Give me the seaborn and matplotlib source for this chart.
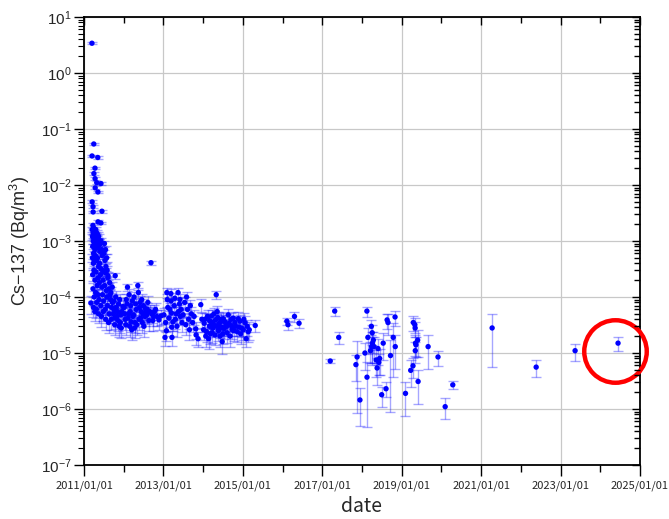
import numpy as np
import pandas as pd
import matplotlib
matplotlib.use('Agg')
import matplotlib.pyplot as plt
import matplotlib.dates as mdates
from matplotlib.ticker import LogLocator, NullFormatter
import seaborn as sns

# Cs-137 air concentration (Bq/m3), rel = relative 1-sigma error

# first days after the accident
date_spike = ['2011-03-15', '2011-04-01', '2011-03-16', '2011-05-08', '2011-04-12', '2011-04-02',
              '2011-04-13', '2011-04-28', '2011-06-06', '2011-04-14', '2011-05-09', '2011-03-17',
              '2011-03-25', '2011-06-15', '2011-03-26', '2011-05-10', '2011-06-05']
cs_spike = [3.4, 0.054, 0.033, 0.031, 0.020, 0.016,
            0.013, 0.011, 0.0106, 0.0089, 0.0075, 0.0050,
            0.0041, 0.0034, 0.0033, 0.0022, 0.0021]
rel_spike = [0.05, 0.06, 0.05, 0.06, 0.05, 0.06,
             0.05, 0.06, 0.05, 0.06, 0.05, 0.06,
             0.05, 0.06, 0.05, 0.06, 0.05]

# rest of 2011
date_2011 = ['2011-03-18', '2011-03-20', '2011-03-22', '2011-03-24', '2011-03-26', '2011-03-28',
             '2011-03-30', '2011-04-01', '2011-04-03', '2011-04-05', '2011-04-07', '2011-04-09',
             '2011-04-11', '2011-04-14', '2011-04-16', '2011-04-18', '2011-04-21', '2011-04-24',
             '2011-04-27', '2011-04-30', '2011-05-03', '2011-05-06', '2011-05-09', '2011-05-12',
             '2011-05-15', '2011-05-19', '2011-05-23', '2011-05-27', '2011-06-01', '2011-06-06',
             '2011-06-12', '2011-06-18', '2011-03-20', '2011-03-28', '2011-04-06', '2011-04-15',
             '2011-04-25', '2011-05-05', '2011-05-15', '2011-05-25', '2011-06-05', '2011-06-20',
             '2011-07-05', '2011-07-20', '2011-03-22', '2011-04-02', '2011-04-12', '2011-04-22',
             '2011-05-02', '2011-05-12', '2011-05-22', '2011-06-01', '2011-06-15', '2011-06-25',
             '2011-07-10', '2011-07-25', '2011-08-10', '2011-08-25', '2011-03-25', '2011-04-05',
             '2011-04-18', '2011-04-28', '2011-05-10', '2011-05-20', '2011-06-05', '2011-06-20',
             '2011-07-01', '2011-07-15', '2011-07-30', '2011-03-29', '2011-04-10', '2011-04-25',
             '2011-05-15', '2011-06-10', '2011-06-28', '2011-07-20', '2011-08-05', '2011-08-20',
             '2011-09-05', '2011-09-20', '2011-10-15', '2011-10-05', '2011-10-20', '2011-11-01',
             '2011-11-15', '2011-12-01', '2011-12-15', '2011-08-15', '2011-09-10', '2011-10-10',
             '2011-11-20', '2011-03-05',
             '2011-07-03', '2011-07-08', '2011-07-12', '2011-07-18', '2011-07-22', '2011-07-28',
             '2011-08-02', '2011-08-08', '2011-08-18', '2011-08-28', '2011-09-02', '2011-09-12',
             '2011-09-18', '2011-09-28', '2011-10-02', '2011-10-12', '2011-10-25', '2011-11-05',
             '2011-11-10', '2011-11-25', '2011-12-05', '2011-12-10', '2011-12-25']
cs_2011 = [1.6e-3, 1.2e-3, 8.0e-4, 1.9e-3, 1.4e-3, 1.0e-3,
           6.0e-4, 1.7e-3, 1.2e-3, 9.0e-4, 1.5e-3, 1.1e-3,
           7.0e-4, 1.3e-3, 1.0e-3, 1.6e-3, 8.0e-4, 1.2e-3,
           1.4e-3, 9.0e-4, 1.1e-3, 1.3e-3, 7.5e-4, 1.0e-3,
           1.2e-3, 8.5e-4, 1.0e-3, 6.5e-4, 9.0e-4, 1.0e-3,
           7.0e-4, 5.5e-4, 5.0e-4, 4.0e-4, 4.5e-4, 5.5e-4,
           4.5e-4, 5.0e-4, 3.5e-4, 4.0e-4, 3.2e-4, 3.0e-4,
           2.8e-4, 2.7e-4, 2.5e-4, 3.0e-4, 2.0e-4, 2.8e-4,
           1.6e-4, 2.2e-4, 1.8e-4, 2.5e-4, 1.5e-4, 2.0e-4,
           1.6e-4, 1.3e-4, 2.4e-4, 1.8e-4, 1.4e-4, 1.0e-4,
           1.2e-4, 8.0e-5, 1.1e-4, 9.0e-5, 7.0e-5, 1.1e-4,
           8.5e-5, 6.0e-5, 1.0e-4, 6.5e-5, 5.5e-5, 6.0e-5,
           5.0e-5, 4.5e-5, 5.5e-5, 4.0e-5, 7.0e-5, 5.0e-5,
           1.2e-4, 8.0e-5, 2.4e-4, 6.0e-5, 1.0e-4, 4.5e-5,
           7.5e-5, 3.5e-5, 5.5e-5, 3.5e-5, 4.0e-5, 3.2e-5,
           3.0e-5, 7.8e-5,
           6.0e-4, 9.0e-4, 4.5e-4, 7.0e-4, 3.5e-4, 5.0e-4,
           3.0e-4, 2.2e-4, 1.4e-4, 1.1e-4, 9.0e-5, 6.5e-5,
           1.5e-4, 5.0e-5, 8.5e-5, 4.2e-5, 6.5e-5, 5.5e-5,
           3.8e-5, 9.0e-5, 4.8e-5, 2.8e-5, 6.8e-5]
rel_2011 = [0.10, 0.12, 0.10, 0.12, 0.10, 0.12,
            0.10, 0.12, 0.10, 0.12, 0.10, 0.12,
            0.10, 0.12, 0.10, 0.12, 0.10, 0.12,
            0.10, 0.12, 0.10, 0.12, 0.10, 0.12,
            0.10, 0.12, 0.10, 0.12, 0.10, 0.12,
            0.15, 0.15, 0.15, 0.18, 0.15, 0.18,
            0.15, 0.18, 0.20, 0.18, 0.20, 0.20,
            0.20, 0.20, 0.22, 0.20, 0.25, 0.22,
            0.25, 0.22, 0.25, 0.22, 0.25, 0.25,
            0.25, 0.28, 0.15, 0.25, 0.28, 0.30,
            0.28, 0.30, 0.28, 0.30, 0.32, 0.28,
            0.30, 0.32, 0.28, 0.32, 0.32, 0.30,
            0.32, 0.35, 0.32, 0.35, 0.30, 0.32,
            0.28, 0.30, 0.12, 0.32, 0.28, 0.35,
            0.30, 0.35, 0.32, 0.35, 0.35, 0.35,
            0.35, 0.35,
            0.15, 0.12, 0.15, 0.15, 0.18, 0.15,
            0.20, 0.22, 0.25, 0.28, 0.30, 0.30,
            0.25, 0.32, 0.30, 0.35, 0.30, 0.32,
            0.35, 0.28, 0.32, 0.35, 0.30]

# 2012
date_2012 = ['2012-01-05', '2012-01-15', '2012-01-25', '2012-02-05', '2012-02-15', '2012-02-25',
             '2012-03-05', '2012-03-15', '2012-03-25', '2012-04-05', '2012-04-15', '2012-04-25',
             '2012-05-10', '2012-05-20', '2012-05-30', '2012-06-10', '2012-06-20', '2012-07-01',
             '2012-07-15', '2012-07-25', '2012-08-05', '2012-08-20', '2012-09-08', '2012-09-15',
             '2012-10-01', '2012-10-20',
             '2012-01-10', '2012-01-20', '2012-02-01', '2012-02-10', '2012-02-20', '2012-03-01',
             '2012-03-10', '2012-03-20', '2012-04-01', '2012-04-10', '2012-04-20', '2012-05-01',
             '2012-05-15', '2012-05-25', '2012-06-05', '2012-06-15', '2012-06-25', '2012-07-05',
             '2012-07-20', '2012-08-01', '2012-08-10', '2012-08-28', '2012-09-25', '2012-10-10',
             '2012-11-01', '2012-11-20', '2012-12-10']
cs_2012 = [6.5e-5, 4.0e-5, 9.0e-5, 1.5e-4, 5.0e-5, 3.0e-5,
           7.0e-5, 2.6e-5, 4.5e-5, 1.0e-4, 3.5e-5, 6.0e-5,
           1.6e-4, 4.0e-5, 8.0e-5, 5.5e-5, 3.5e-5, 7.0e-5,
           4.5e-5, 5.2e-5, 6.0e-5, 3.8e-5, 4.1e-4, 5.0e-5,
           4.5e-5, 6.0e-5,
           5.0e-5, 3.2e-5, 7.5e-5, 4.2e-5, 1.1e-4, 5.5e-5,
           3.6e-5, 8.5e-5, 4.8e-5, 2.8e-5, 7.5e-5, 3.2e-5,
           1.2e-4, 6.5e-5, 4.2e-5, 9.0e-5, 5.0e-5, 3.0e-5,
           6.2e-5, 4.8e-5, 8.0e-5, 5.5e-5, 3.8e-5, 5.5e-5,
           4.5e-5, 3.9e-5, 4.6e-5]
rel_2012 = [0.30, 0.35, 0.28, 0.15, 0.30, 0.35,
            0.30, 0.35, 0.32, 0.25, 0.35, 0.30,
            0.15, 0.35, 0.28, 0.30, 0.35, 0.30,
            0.32, 0.30, 0.30, 0.35, 0.08, 0.30,
            0.32, 0.30,
            0.32, 0.35, 0.28, 0.32, 0.25, 0.30,
            0.35, 0.28, 0.32, 0.35, 0.28, 0.35,
            0.22, 0.30, 0.32, 0.28, 0.30, 0.35,
            0.30, 0.32, 0.28, 0.30, 0.35, 0.30,
            0.32, 0.35, 0.30]

# 2013
date_2013 = ['2013-01-15', '2013-01-20', '2013-02-01', '2013-02-05', '2013-02-10', '2013-03-10',
             '2013-03-12', '2013-03-15', '2013-03-18', '2013-03-20', '2013-04-10', '2013-04-20',
             '2013-05-15', '2013-05-20', '2013-06-01', '2013-06-05', '2013-06-20', '2013-08-01',
             '2013-08-10', '2013-08-20', '2013-09-15', '2013-10-25', '2013-10-28', '2013-11-15',
             '2013-12-10', '2013-12-20',
             '2013-01-05', '2013-01-28', '2013-02-20', '2013-03-01', '2013-03-28', '2013-04-15',
             '2013-04-28', '2013-05-05', '2013-05-28', '2013-06-12', '2013-07-01', '2013-07-15',
             '2013-07-25', '2013-08-28', '2013-09-05', '2013-09-25', '2013-10-10']
cs_2013 = [1.9e-5, 3.5e-5, 1.2e-4, 9.0e-5, 6.5e-5, 1.15e-4,
           8.5e-5, 5.2e-5, 2.9e-5, 1.9e-5, 7.0e-5, 4.0e-5,
           1.2e-4, 5.5e-5, 9.0e-5, 4.5e-5, 3.5e-5, 1.0e-4,
           6.0e-5, 4.0e-5, 5.0e-5, 2.7e-5, 2.1e-5, 1.8e-5,
           7.3e-5, 4.0e-5,
           4.8e-5, 2.5e-5, 4.2e-5, 6.0e-5, 3.6e-5, 9.5e-5,
           5.0e-5, 3.0e-5, 7.5e-5, 6.0e-5, 4.8e-5, 8.0e-5,
           3.2e-5, 2.6e-5, 7.0e-5, 3.5e-5, 4.5e-5]
rel_2013 = [0.30, 0.32, 0.20, 0.25, 0.28, 0.20,
            0.25, 0.30, 0.32, 0.30, 0.28, 0.32,
            0.20, 0.30, 0.25, 0.30, 0.32, 0.22,
            0.28, 0.32, 0.30, 0.35, 0.35, 0.30,
            0.25, 0.32,
            0.30, 0.35, 0.32, 0.28, 0.32, 0.25,
            0.30, 0.35, 0.28, 0.30, 0.32, 0.25,
            0.35, 0.35, 0.28, 0.32, 0.30]

# 2014 - 2016
date_2014 = ['2014-01-10', '2014-01-25', '2014-02-10', '2014-02-20', '2014-03-01', '2014-03-15',
             '2014-04-01', '2014-04-10', '2014-05-01', '2014-05-10', '2014-05-20', '2014-06-01',
             '2014-06-15', '2014-07-01', '2014-07-20', '2014-08-05', '2014-08-20', '2014-09-05',
             '2014-09-25', '2014-10-20', '2014-11-10', '2014-12-05', '2014-12-20', '2014-06-25',
             '2014-03-25', '2014-10-05', '2015-01-20', '2015-02-01', '2015-02-10', '2015-03-01',
             '2015-04-25', '2016-02-10', '2016-02-20', '2016-04-20', '2016-06-01',
             '2014-01-05', '2014-01-18', '2014-02-01', '2014-02-28', '2014-03-08', '2014-03-20',
             '2014-04-05', '2014-04-20', '2014-04-25', '2014-05-05', '2014-05-15', '2014-05-25',
             '2014-06-05', '2014-06-10', '2014-06-20', '2014-07-05', '2014-07-12', '2014-07-28',
             '2014-08-10', '2014-08-28', '2014-09-15', '2014-09-20', '2014-10-10', '2014-10-28',
             '2014-11-20', '2014-11-28', '2014-12-12', '2015-01-05', '2015-01-10', '2015-02-20']
cs_2014 = [3.4e-5, 2.0e-5, 4.5e-5, 1.8e-5, 3.0e-5, 3.6e-5,
           2.8e-5, 5.0e-5, 1.1e-4, 5.5e-5, 2.5e-5, 2.7e-5,
           4.0e-5, 2.2e-5, 3.6e-5, 3.0e-5, 4.8e-5, 2.0e-5,
           2.6e-5, 3.5e-5, 2.4e-5, 3.7e-5, 2.8e-5, 1.6e-5,
           2.3e-5, 4.2e-5, 3.5e-5, 1.8e-5, 3.0e-5, 2.6e-5,
           3.1e-5, 3.7e-5, 3.2e-5, 4.5e-5, 3.4e-5,
           2.6e-5, 4.0e-5, 2.4e-5, 3.8e-5, 2.2e-5, 4.6e-5,
           3.3e-5, 2.1e-5, 3.9e-5, 3.0e-5, 4.3e-5, 3.3e-5,
           2.0e-5, 3.6e-5, 2.9e-5, 4.1e-5, 2.7e-5, 3.1e-5,
           2.3e-5, 3.4e-5, 4.0e-5, 3.0e-5, 2.5e-5, 3.0e-5,
           4.1e-5, 2.9e-5, 2.2e-5, 2.6e-5, 4.0e-5, 2.4e-5]
rel_2014 = [0.30, 0.35, 0.28, 0.35, 0.32, 0.30,
            0.32, 0.28, 0.15, 0.25, 0.35, 0.32,
            0.30, 0.35, 0.30, 0.32, 0.28, 0.35,
            0.32, 0.30, 0.35, 0.30, 0.32, 0.40,
            0.35, 0.30, 0.30, 0.30, 0.32, 0.35,
            0.25, 0.15, 0.18, 0.22, 0.18,
            0.35, 0.30, 0.35, 0.30, 0.35, 0.28,
            0.32, 0.35, 0.30, 0.32, 0.28, 0.32,
            0.35, 0.30, 0.32, 0.30, 0.35, 0.32,
            0.35, 0.30, 0.30, 0.32, 0.35, 0.32,
            0.30, 0.32, 0.35, 0.35, 0.30, 0.35]

# 2017 onwards
date_late = ['2017-03-15', '2017-04-25', '2017-06-01', '2017-11-06', '2017-11-17', '2017-12-13',
             '2018-01-28', '2018-02-15', '2018-02-16', '2018-02-24', '2018-03-20', '2018-03-28',
             '2018-03-30', '2018-04-05', '2018-04-06', '2018-04-15', '2018-04-22', '2018-05-12',
             '2018-05-20', '2018-05-28', '2018-06-05', '2018-06-12', '2018-07-01', '2018-07-15',
             '2018-08-10', '2018-08-20', '2018-08-28', '2018-09-20', '2018-10-15', '2018-11-01',
             '2018-11-03', '2019-02-05', '2019-03-25', '2019-04-15', '2019-04-18', '2019-05-02',
             '2019-05-05', '2019-05-08', '2019-05-12', '2019-05-06', '2019-05-28', '2019-06-01',
             '2019-09-01', '2019-12-01', '2020-02-05', '2020-04-15', '2021-04-12', '2022-05-22',
             '2023-05-15', '2024-06-13']
cs_late = [7.2e-6, 5.6e-5, 1.9e-5, 6.2e-6, 8.5e-6, 1.45e-6,
           1.0e-5, 5.6e-5, 3.7e-6, 1.9e-5, 1.1e-5, 3.0e-5,
           1.3e-5, 2.3e-5, 1.5e-5, 1.7e-5, 1.3e-5, 7.5e-6,
           5.4e-6, 1.2e-5, 6.8e-6, 8.0e-6, 1.8e-6, 1.5e-5,
           2.3e-6, 3.9e-5, 3.5e-5, 9.0e-6, 1.9e-5, 4.4e-5,
           1.3e-5, 1.9e-6, 4.9e-6, 5.9e-6, 3.5e-5, 3.2e-5,
           2.8e-5, 1.5e-5, 1.4e-5, 1.1e-5, 1.7e-5, 3.1e-6,
           1.3e-5, 8.5e-6, 1.1e-6, 2.7e-6, 2.8e-5, 5.6e-6,
           1.1e-5, 1.5e-5]
rel_late = [0.08, 0.17, 0.25, 0.50, 0.90, 0.66,
            0.50, 0.20, 0.87, 0.50, 0.40, 0.30,
            0.50, 0.40, 0.60, 0.40, 0.50, 0.50,
            0.50, 0.50, 0.40, 0.50, 0.40, 0.50,
            0.30, 0.30, 0.40, 0.90, 0.80, 0.30,
            0.60, 0.60, 0.50, 0.40, 0.30, 0.30,
            0.30, 0.40, 0.40, 0.40, 0.50, 0.60,
            0.60, 0.30, 0.40, 0.17, 0.80, 0.33,
            0.34, 0.27]

# highlighted point (red circle)
hl_date = '2024-05-15'
hl_cs = 1.1e-5

x_tick_labels = ['2011/01/01', '2013/01/01', '2015/01/01', '2017/01/01',
                 '2019/01/01', '2021/01/01', '2023/01/01', '2025/01/01']
x_minor_labels = ['2012/01/01', '2014/01/01', '2016/01/01', '2018/01/01',
                  '2020/01/01', '2022/01/01', '2024/01/01']

sns.set_theme(style='white')
plt.rcParams['font.family'] = ['Liberation Sans', 'DejaVu Sans']
plt.rcParams['mathtext.fontset'] = 'custom'
plt.rcParams['mathtext.rm'] = 'Liberation Sans'
plt.rcParams['mathtext.it'] = 'Liberation Sans:italic'

df = pd.DataFrame({
    'date': pd.to_datetime(date_spike + date_2011 + date_2012 + date_2013 + date_2014 + date_late),
    'cs': cs_spike + cs_2011 + cs_2012 + cs_2013 + cs_2014 + cs_late,
    'rel': rel_spike + rel_2011 + rel_2012 + rel_2013 + rel_2014 + rel_late,
})
df['x'] = mdates.date2num(df['date'])
df['err'] = df['cs'] * df['rel']

major_x = mdates.date2num(pd.to_datetime(x_tick_labels, format='%Y/%m/%d'))
minor_x = mdates.date2num(pd.to_datetime(x_minor_labels, format='%Y/%m/%d'))

fig = plt.figure(figsize=(6.69, 5.19), dpi=100)
rect = [84 / 669, 54 / 519, 556 / 669, 448 / 519]
ax = fig.add_axes(rect)

ax.errorbar(df['x'], df['cs'], yerr=df['err'], fmt='none', ecolor='blue', alpha=0.35,
            elinewidth=1, capsize=3.6, capthick=1, zorder=2)
sns.scatterplot(data=df, x='x', y='cs', color='blue', s=15, edgecolor='none', ax=ax, zorder=3)

ax.plot(mdates.date2num(pd.to_datetime(hl_date)), hl_cs, 'o', ms=45, mfc='none', mec='red',
        mew=3.2, clip_on=False, zorder=5)

ax.set_yscale('log')
ax.set_ylim(1e-7, 1e1)
ax.set_xlim(major_x[0], major_x[-1])
ax.yaxis.set_major_locator(LogLocator(base=10, numticks=20))
ax.yaxis.set_minor_locator(LogLocator(base=10, subs=np.arange(2, 10), numticks=20))
ax.yaxis.set_minor_formatter(NullFormatter())

ax.set_xticks(major_x)
ax.set_xticklabels(x_tick_labels, fontfamily=['Noto Sans CJK JP', 'DejaVu Sans'], fontsize=8)
ax.set_xticks(minor_x, minor=True)

ax.tick_params(axis='x', which='major', direction='out', length=8, width=1, color='black', pad=3)
ax.tick_params(axis='x', which='minor', direction='out', length=5, width=1, color='black')
ax.tick_params(axis='y', which='major', direction='out', length=7, width=1, color='black',
               labelsize=11, pad=2)
ax.tick_params(axis='y', which='minor', direction='out', length=4, width=0.8, color='black')
ax.tick_params(top=False, right=False, left=True, bottom=True, which='both')

ax.grid(True, which='major', color='#c8c8c8', linewidth=0.9)
ax.set_axisbelow(True)
for s in ax.spines.values():
    s.set_color('black')
    s.set_linewidth(1.3)

# overlay axes only for the inward ticks on top and right
ax_in = fig.add_axes(rect, frameon=False)
ax_in.patch.set_visible(False)
ax_in.set_yscale('log')
ax_in.set_ylim(1e-7, 1e1)
ax_in.set_xlim(major_x[0], major_x[-1])
ax_in.set_xticks(major_x)
ax_in.set_xticks(minor_x, minor=True)
ax_in.yaxis.set_major_locator(LogLocator(base=10, numticks=20))
ax_in.yaxis.set_minor_locator(LogLocator(base=10, subs=np.arange(2, 10), numticks=20))
ax_in.grid(False)
ax_in.tick_params(which='both', direction='in', color='black', width=1,
                  top=True, right=True, bottom=False, left=False,
                  labeltop=False, labelright=False, labelbottom=False, labelleft=False)
ax_in.tick_params(which='major', length=6)
ax_in.tick_params(which='minor', length=4)

ax.set_xlabel('date', fontfamily=['Noto Sans CJK JP', 'DejaVu Sans'], fontsize=14, labelpad=4)
ax.set_ylabel('Cs\u2212137 (Bq/m$^3$)', fontsize=13, labelpad=6)

fig.savefig('out.png', dpi=100)
